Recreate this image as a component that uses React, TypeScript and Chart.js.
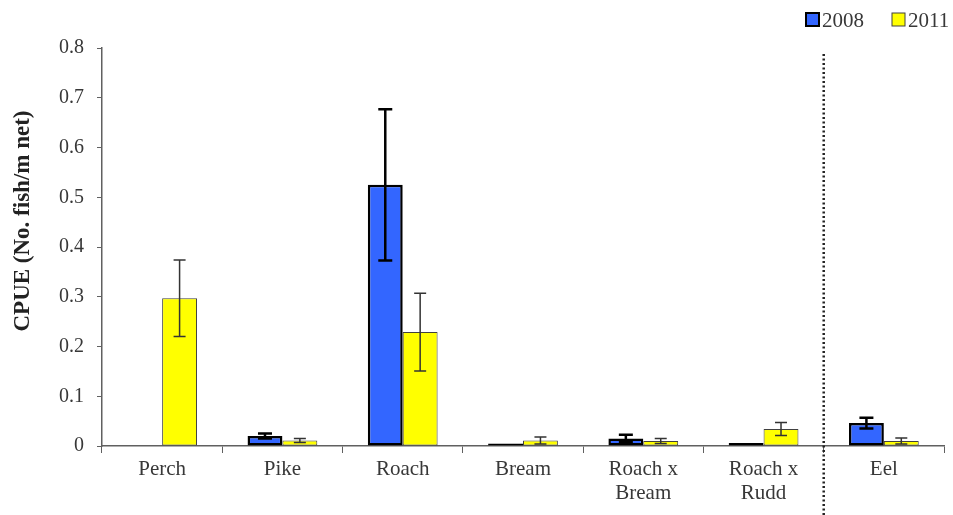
import React, { useEffect, useRef } from "react";
import { Chart, registerables } from "chart.js";

Chart.register(...registerables);

const categories: (string | string[])[] = [
  "Perch",
  "Pike",
  "Roach",
  "Bream",
  ["Roach x", "Bream"],
  ["Roach x", "Rudd"],
  "Eel",
];
const values2008: (number | null)[] = [null, 0.02, 0.525, 0.005, 0.015, 0.006, 0.046];
const errors2008: (number | null)[] = [null, 0.005, 0.152, 0, 0.0075, 0, 0.011];
const values2011: number[] = [0.297, 0.011, 0.229, 0.011, 0.01, 0.034, 0.01];
const errors2011: number[] = [0.077, 0.004, 0.078, 0.007, 0.005, 0.013, 0.006];
const yTicks: number[] = [0, 0.1, 0.2, 0.3, 0.4, 0.5, 0.6, 0.7, 0.8];
const seriesNames: string[] = ["2008", "2011"];
const yTitle = "CPUE (No. fish/m net)";

const FONT = "'Liberation Serif', 'Times New Roman', serif";
const TEXT = "#383838";
const AXIS = "#606060";

const errorBarPlugin = {
  id: "errorBars",
  afterDatasetsDraw(chart: any) {
    const ctx = chart.ctx;
    const y = chart.scales.y;
    const errs = [errors2008, errors2011];
    const styles = [
      { w: 2.5, c: "#000000", cap: 7 },
      { w: 1.5, c: "#333333", cap: 6 },
    ];
    chart.data.datasets.forEach((ds: any, di: number) => {
      const meta = chart.getDatasetMeta(di);
      const st = styles[di];
      ds.data.forEach((v: number | null, i: number) => {
        const e = errs[di][i];
        if (v == null || !e) return;
        const x = meta.data[i].x;
        const yt = y.getPixelForValue(v + e);
        const yb = y.getPixelForValue(v - e);
        ctx.save();
        ctx.strokeStyle = st.c;
        ctx.lineWidth = st.w;
        ctx.beginPath();
        ctx.moveTo(x, yt);
        ctx.lineTo(x, yb);
        ctx.moveTo(x - st.cap, yt);
        ctx.lineTo(x + st.cap, yt);
        ctx.moveTo(x - st.cap, yb);
        ctx.lineTo(x + st.cap, yb);
        ctx.stroke();
        ctx.restore();
      });
    });
  },
};

const decorPlugin = {
  id: "decor",
  afterDraw(chart: any) {
    const ctx = chart.ctx;
    const xs = chart.scales.x;
    // dotted separator between Roach x Rudd and Eel
    const xb = (xs.getPixelForValue(5) + xs.getPixelForValue(6)) / 2;
    ctx.save();
    ctx.strokeStyle = "#222222";
    ctx.lineWidth = 2.5;
    ctx.setLineDash([2, 2.5]);
    ctx.beginPath();
    ctx.moveTo(xb, 54);
    ctx.lineTo(xb, 515);
    ctx.stroke();
    ctx.restore();

    // y title
    ctx.save();
    ctx.fillStyle = "#222222";
    ctx.font = `bold 23px ${FONT}`;
    ctx.textAlign = "center";
    ctx.textBaseline = "middle";
    ctx.translate(23, 221);
    ctx.rotate(-Math.PI / 2);
    ctx.fillText(yTitle, 0, 0);
    ctx.restore();

    // legend
    const items = [
      { x: 806, fill: "#3366FF", stroke: "#000000", lw: 2 },
      { x: 892, fill: "#FFFF00", stroke: "#404040", lw: 1 },
    ];
    ctx.save();
    ctx.font = `21px ${FONT}`;
    ctx.textBaseline = "alphabetic";
    ctx.textAlign = "left";
    items.forEach((it, i) => {
      ctx.fillStyle = it.fill;
      ctx.fillRect(it.x, 13, 13, 13);
      ctx.strokeStyle = it.stroke;
      ctx.lineWidth = it.lw;
      ctx.strokeRect(it.x, 13, 13, 13);
      ctx.fillStyle = TEXT;
      ctx.fillText(seriesNames[i], it.x + 16, 27);
    });
    ctx.restore();
  },
};

export default function App() {
  const ref = useRef<HTMLCanvasElement>(null);
  useEffect(() => {
    document.body.style.margin = "0";
    const chart = new Chart(ref.current as HTMLCanvasElement, {
      type: "bar",
      data: {
        labels: categories as any,
        datasets: [
          {
            label: seriesNames[0],
            data: values2008 as any,
            backgroundColor: "#3366FF",
            borderColor: "#000000",
            borderWidth: 2.5,
            borderSkipped: false,
            categoryPercentage: 0.58,
            barPercentage: 1.0,
          },
          {
            label: seriesNames[1],
            data: values2011,
            backgroundColor: "#FFFF00",
            borderColor: "#404040",
            borderWidth: 1,
            borderSkipped: false,
            categoryPercentage: 0.58,
            barPercentage: 1.0,
          },
        ],
      },
      options: {
        animation: false,
        responsive: false,
        layout: { padding: { top: 48, right: 9, left: 0, bottom: 0 } },
        plugins: {
          legend: { display: false },
          tooltip: { enabled: false },
        },
        scales: {
          x: {
            grid: {
              offset: true,
              drawOnChartArea: false,
              drawTicks: true,
              tickLength: 7,
              color: AXIS,
            },
            border: { color: AXIS, width: 1.5 },
            ticks: {
              color: TEXT,
              font: { family: FONT, size: 21, lineHeight: 1.15 },
              padding: 4,
              maxRotation: 0,
              autoSkip: false,
            },
            afterFit: (s: any) => {
              s.height = 69;
            },
          },
          y: {
            min: 0,
            max: 0.8,
            afterBuildTicks: (s: any) => {
              s.ticks = yTicks.map((v) => ({ value: v }));
            },
            grid: {
              drawOnChartArea: false,
              drawTicks: true,
              tickLength: 5,
              color: AXIS,
            },
            border: { color: AXIS, width: 1.5 },
            ticks: {
              color: TEXT,
              font: { family: FONT, size: 20 },
              padding: 13,
              callback: (v: any) => (Number(v) === 0 ? "0" : Number(v).toFixed(1)),
            },
            afterFit: (s: any) => {
              s.width = 102;
            },
          },
        },
      },
      plugins: [errorBarPlugin, decorPlugin],
    });
    return () => chart.destroy();
  }, []);
  return <canvas ref={ref} width={953} height={515} style={{ display: "block" }} />;
}
